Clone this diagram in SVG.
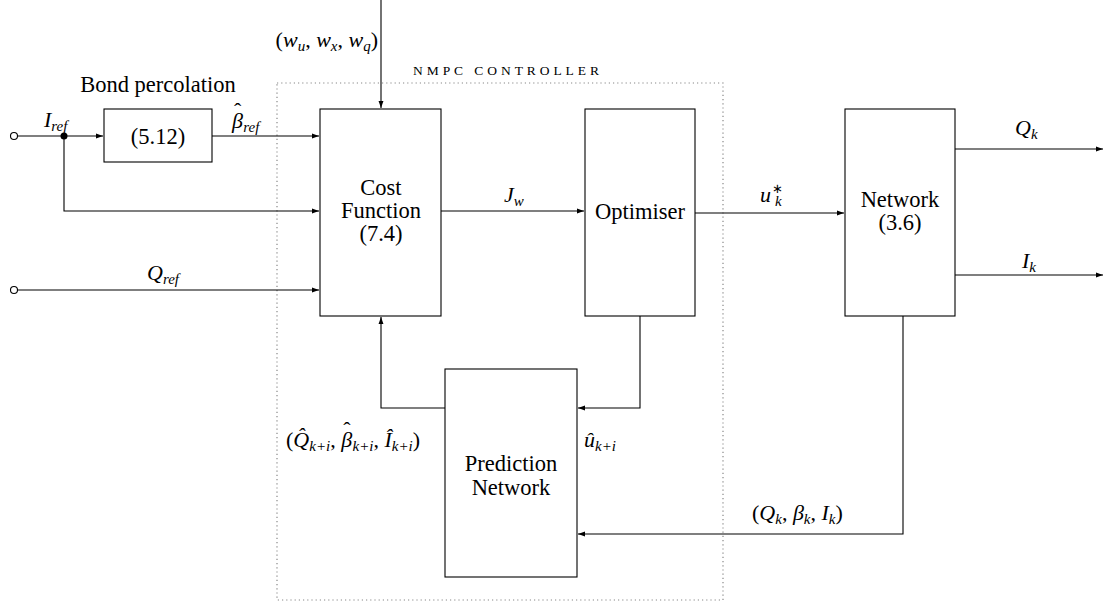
<svg xmlns="http://www.w3.org/2000/svg" width="1104" height="606" viewBox="0 0 1104 606">
<defs>
<marker id="ar" viewBox="0 0 10 10" refX="10" refY="5" markerWidth="7" markerHeight="7" markerUnits="userSpaceOnUse" orient="auto">
<path d="M0,1.5 L10,5 L0,8.5 Z" fill="#000"/>
</marker>
<style>
.box{fill:#fff;stroke:#000;stroke-width:1.1}
.ln{fill:none;stroke:#000;stroke-width:1.1}
.nodetxt{font-family:'Liberation Serif',serif;font-size:22.5px;font-style:normal;fill:#000;text-anchor:middle}
.mathtxt{font-family:'Liberation Serif',serif;font-size:22px;font-style:italic;fill:#000}
.sub{font-size:15px}
.up{font-style:normal}
</style>
</defs>
<g font-family="Liberation Serif">
<rect x="277" y="83" width="446" height="517" fill="none" stroke="#888" stroke-width="1.2" stroke-dasharray="1.2,3"/>
<text x="413" y="75" font-family="Liberation Serif" font-size="13.5" textLength="186" lengthAdjust="spacing">NMPC CONTROLLER</text>
<text class="nodetxt" x="158" y="92">Bond percolation</text>
<g id="connectors">
<circle cx="14" cy="136" r="3.5" fill="#fff" stroke="#000" stroke-width="1.1"/>
<circle cx="14" cy="290" r="3.5" fill="#fff" stroke="#000" stroke-width="1.1"/>
<line class="ln" x1="17.5" y1="136" x2="103" y2="136" marker-end="url(#ar)"/>
<circle cx="64" cy="136" r="3.5" fill="#000"/>
<polyline class="ln" points="64,136 64,211 319,211" marker-end="url(#ar)"/>
<line class="ln" x1="212" y1="136" x2="319" y2="136" marker-end="url(#ar)"/>
<line class="ln" x1="17.5" y1="290" x2="319" y2="290" marker-end="url(#ar)"/>
<line class="ln" x1="381" y1="0" x2="381" y2="108" marker-end="url(#ar)"/>
<line class="ln" x1="441" y1="211" x2="584" y2="211" marker-end="url(#ar)"/>
<line class="ln" x1="695" y1="213" x2="844" y2="213" marker-end="url(#ar)"/>
<line class="ln" x1="955" y1="149" x2="1103" y2="149" marker-end="url(#ar)"/>
<line class="ln" x1="955" y1="275" x2="1103" y2="275" marker-end="url(#ar)"/>
<polyline class="ln" points="445,408 381,408 381,317" marker-end="url(#ar)"/>
<polyline class="ln" points="640,316 640,408 578,408" marker-end="url(#ar)"/>
<polyline class="ln" points="903,316 903,534 578,534" marker-end="url(#ar)"/>
</g>
<g id="bond"><rect class="box" x="104" y="109" width="108" height="53"/><text class="nodetxt" x="158" y="144">(5.12)</text></g>
<g id="cost"><rect class="box" x="320" y="109" width="121" height="207"/>
<text class="nodetxt" x="381" y="195">Cost</text><text class="nodetxt" x="381" y="218">Function</text><text class="nodetxt" x="381" y="241">(7.4)</text></g>
<g id="optimiser"><rect class="box" x="585" y="109" width="110" height="207"/><text class="nodetxt" x="640" y="219">Optimiser</text></g>
<g id="network"><rect class="box" x="845" y="109" width="110" height="207"/>
<text class="nodetxt" x="900" y="207">Network</text><text class="nodetxt" x="900" y="230">(3.6)</text></g>
<g id="prediction"><rect class="box" x="445" y="369" width="132" height="208"/>
<text class="nodetxt" x="511" y="471">Prediction</text><text class="nodetxt" x="511" y="495">Network</text></g>
<g id="labels">
<text class="mathtxt" x="44" y="127">I<tspan class="sub" dy="4">ref</tspan></text>
<text class="mathtxt" x="232" y="128">β<tspan class="up" dx="-9" dy="-10">ˆ</tspan><tspan class="sub" dx="2" dy="14">ref</tspan></text>
<text class="mathtxt" x="147" y="280">Q<tspan class="sub" dy="4">ref</tspan></text>
<text class="mathtxt" x="378" y="47" text-anchor="end"><tspan class="up">(</tspan>w<tspan class="sub" dy="4">u</tspan><tspan dy="-4" class="up">, </tspan>w<tspan class="sub" dy="4">x</tspan><tspan dy="-4" class="up">, </tspan>w<tspan class="sub" dy="4">q</tspan><tspan dy="-4" class="up">)</tspan></text>
<text class="mathtxt" x="504" y="202">J<tspan class="sub" dy="4">w</tspan></text>
<text class="mathtxt" x="760" y="202">u<tspan class="up" font-size="13" dx="1" dy="-9">∗</tspan><tspan class="sub" dx="-8" dy="13">k</tspan></text>
<text class="mathtxt" x="1015" y="135">Q<tspan class="sub" dy="4">k</tspan></text>
<text class="mathtxt" x="1022" y="268">I<tspan class="sub" dy="4">k</tspan></text>
<text class="mathtxt" x="286" y="447"><tspan class="up">(</tspan>Q̂<tspan class="sub" dy="4">k+i</tspan><tspan dy="-4" class="up">, </tspan>β<tspan class="up" dx="-9" dy="-10">ˆ</tspan><tspan class="sub" dx="2" dy="14">k+i</tspan><tspan dy="-4" class="up">, </tspan>Î<tspan class="sub" dy="4">k+i</tspan><tspan dy="-4" class="up">)</tspan></text>
<text class="mathtxt" x="584" y="447">û<tspan class="sub" dy="4">k+i</tspan></text>
<text class="mathtxt" x="752" y="520"><tspan class="up">(</tspan>Q<tspan class="sub" dy="4">k</tspan><tspan dy="-4" class="up">, </tspan>β<tspan class="sub" dy="4">k</tspan><tspan dy="-4" class="up">, </tspan>I<tspan class="sub" dy="4">k</tspan><tspan dy="-4" class="up">)</tspan></text>
</g>
</g>
</svg>
